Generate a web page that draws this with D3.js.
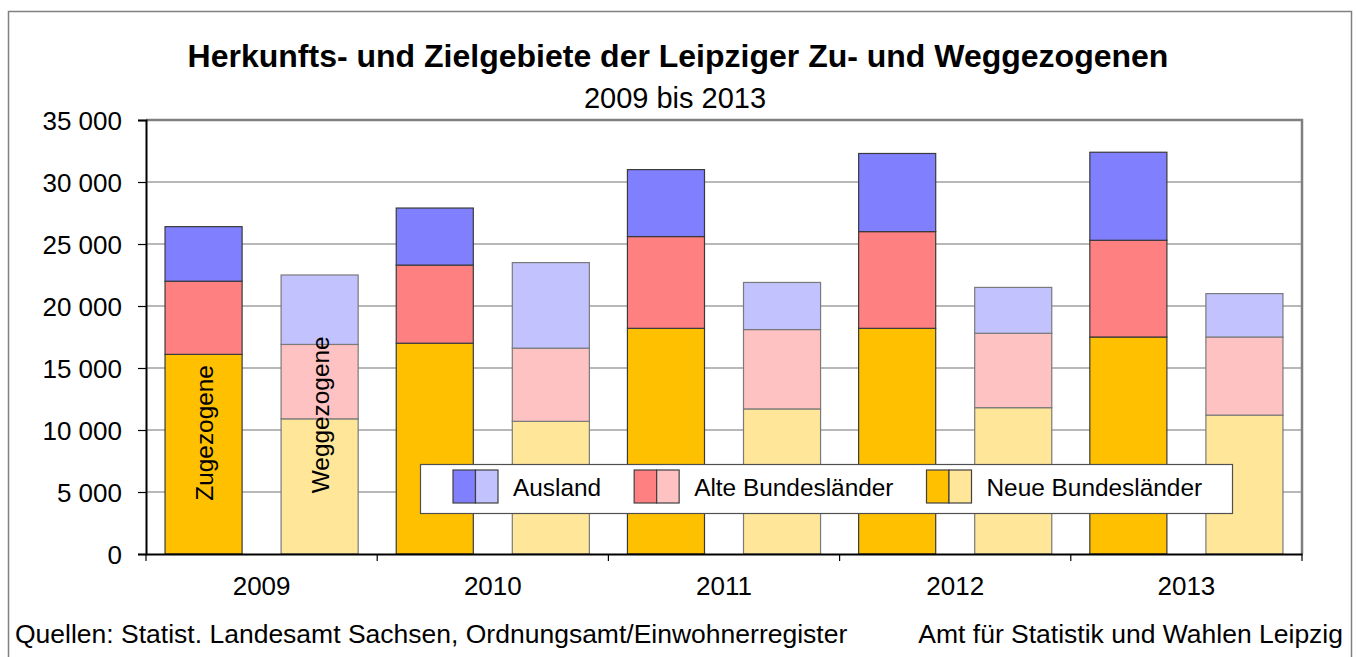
<!DOCTYPE html>
<html>
<head>
<meta charset="utf-8">
<script src="https://cdn.jsdelivr.net/npm/d3@7"></script>
<style>
    body { margin: 0; background: #fff; }
    svg text { font-family: "Liberation Sans", Arial, sans-serif; fill: #000; }
</style>
</head>
<body>
<svg class="chart" width="1356" height="657"></svg>
<script>
var years = ["2009", "2010", "2011", "2012", "2013"];
var flows = ["Zu", "Weg"];

// Zugezogene (arrivals), stacked bottom to top
var zuNeue = [16100, 17000, 18200, 18200, 17500];
var zuAlte = [5900, 6300, 7400, 7800, 7800];
var zuAusland = [4400, 4600, 5400, 6300, 7100];

// Weggezogene (departures)
var wegNeue = [10900, 10700, 11700, 11800, 11200];
var wegAlte = [6000, 5900, 6400, 6000, 6300];
var wegAusland = [5600, 6900, 3800, 3700, 3500];

var regions = ["Neue Bundesländer", "Alte Bundesländer", "Ausland"];
var yTicks = [0, 5000, 10000, 15000, 20000, 25000, 30000, 35000];
var legendOrder = ["Ausland", "Alte Bundesländer", "Neue Bundesländer"];

var colors = {
    "Zu": { "Neue Bundesländer": "#ffc000", "Alte Bundesländer": "#ff8080", "Ausland": "#8080ff" },
    "Weg": { "Neue Bundesländer": "#ffe699", "Alte Bundesländer": "#ffc2c2", "Ausland": "#c2c2ff" }
};

var svg = d3.select("svg.chart");
var plotL = 146, plotR = 1302, plotT = 120, plotB = 554;

var de = d3.formatLocale({ decimal: ",", thousands: " ", grouping: [3], currency: ["", " €"] });
var fmt = de.format(",d");

var x0 = d3.scaleBand().domain(years).range([plotL, plotR]);
var x1 = d3.scaleBand().domain(flows).range([0, x0.bandwidth()])
    .paddingInner(0.336).paddingOuter(0.164);
var y = d3.scaleLinear().domain([0, 35000]).range([plotB, plotT]);

// build stacked rows
var rows = [];
years.forEach(function (year, i) {
    rows.push({ year: year, flow: "Zu", "Neue Bundesländer": zuNeue[i], "Alte Bundesländer": zuAlte[i], "Ausland": zuAusland[i] });
    rows.push({ year: year, flow: "Weg", "Neue Bundesländer": wegNeue[i], "Alte Bundesländer": wegAlte[i], "Ausland": wegAusland[i] });
});
var series = d3.stack().keys(regions)(rows);

// outer frame
svg.append("rect")
    .attr("x", 8.5).attr("y", 11.5)
    .attr("width", 1343).attr("height", 660)
    .attr("fill", "none")
    .attr("stroke", "#808080")
    .attr("stroke-width", 1.5);

// title
svg.append("text")
    .attr("x", 678).attr("y", 67)
    .attr("text-anchor", "middle")
    .style("font-size", "32px")
    .style("font-weight", "bold")
    .text("Herkunfts- und Zielgebiete der Leipziger Zu- und Weggezogenen");
svg.append("text")
    .attr("x", 675).attr("y", 108)
    .attr("text-anchor", "middle")
    .style("font-size", "29px")
    .text("2009 bis 2013");

// grid lines
svg.append("g").selectAll("line.grid")
    .data(yTicks.slice(1))
    .enter().append("line")
    .classed("grid", true)
    .attr("x1", plotL).attr("x2", plotR)
    .attr("y1", function (d) { return y(d); })
    .attr("y2", function (d) { return y(d); })
    .attr("stroke", "#a0a0a0")
    .attr("stroke-width", 1.6);

// plot border top / right
svg.append("path")
    .attr("d", "M" + plotL + "," + plotT + "H" + plotR + "V" + plotB)
    .attr("fill", "none")
    .attr("stroke", "#808080")
    .attr("stroke-width", 2.5);

// bars
var layer = svg.append("g").selectAll("g.layer")
    .data(series)
    .enter().append("g")
    .classed("layer", true);
layer.selectAll("rect")
    .data(function (s) { return s.map(function (d) { d.key = s.key; return d; }); })
    .enter().append("rect")
    .attr("x", function (d) { return x0(d.data.year) + x1(d.data.flow); })
    .attr("y", function (d) { return y(d[1]); })
    .attr("width", x1.bandwidth())
    .attr("height", function (d) { return y(d[0]) - y(d[1]); })
    .attr("fill", function (d) { return colors[d.data.flow][d.key]; })
    .attr("stroke", function (d) { return d.data.flow === "Zu" ? "#3a3a3a" : "#7a7a7a"; })
    .attr("stroke-width", 1.2);

// rotated labels in first pair of bars
var firstYear = years[0];
[["Zu", "Zugezogene", 4300], ["Weg", "Weggezogene", 4900]].forEach(function (lab) {
    var cx = x0(firstYear) + x1(lab[0]) + x1.bandwidth() / 2 + 9;
    svg.append("text")
        .attr("transform", "translate(" + cx + "," + y(lab[2]) + ") rotate(-90)")
        .style("font-size", "24.4px")
        .text(lab[1]);
});

// axes
var yAxis = d3.axisLeft(y).tickValues(yTicks).tickFormat(fmt).tickSize(8).tickPadding(16);
var gy = svg.append("g").attr("transform", "translate(" + plotL + ",0)").call(yAxis);
gy.select(".domain").attr("stroke", "#000").attr("stroke-width", 2);
gy.selectAll(".tick line").attr("stroke", "#000").attr("stroke-width", 1.2);
gy.selectAll(".tick text")
    .attr("fill", "#000")
    .style("font-size", "26px")
    .attr("dy", "0.35em")
    .style("font-family", "'Liberation Sans', Arial, sans-serif");

var xAxis = d3.axisBottom(x0).tickSize(0).tickPadding(23);
var gx = svg.append("g").attr("transform", "translate(0," + plotB + ")").call(xAxis);
gx.select(".domain").attr("stroke", "#000").attr("stroke-width", 2);
gx.selectAll(".tick text")
    .attr("fill", "#000")
    .style("font-size", "26px")
    .style("font-family", "'Liberation Sans', Arial, sans-serif");

// category separator ticks
var bounds = years.map(function (d) { return x0(d); }).concat([plotR]);
gx.selectAll("line.sep")
    .data(bounds)
    .enter().append("line")
    .classed("sep", true)
    .attr("x1", function (d) { return d; }).attr("x2", function (d) { return d; })
    .attr("y1", 0).attr("y2", 7)
    .attr("stroke", "#000")
    .attr("stroke-width", 1.2);

// legend
var legend = svg.append("g").attr("transform", "translate(420,464)");
legend.append("rect")
    .attr("x", 0.5).attr("y", 0.5)
    .attr("width", 812).attr("height", 49)
    .attr("fill", "#fff")
    .attr("stroke", "#505050")
    .attr("stroke-width", 1.2);

var lx = 33;
legendOrder.forEach(function (key) {
    var item = legend.append("g").attr("transform", "translate(" + lx + ",6)");
    flows.forEach(function (flow, i) {
        item.append("rect")
            .attr("x", i * 22.5).attr("y", 0)
            .attr("width", 22.5).attr("height", 33)
            .attr("fill", colors[flow][key])
            .attr("stroke", "#404040")
            .attr("stroke-width", 1.2);
    });
    var t = item.append("text")
        .attr("x", 60).attr("y", 26)
        .style("font-size", "24.4px")
        .text(key);
    lx += 60 + t.node().getComputedTextLength() + 33;
});

// footer
svg.append("text")
    .attr("x", 15).attr("y", 643)
    .style("font-size", "26.5px")
    .text("Quellen: Statist. Landesamt Sachsen, Ordnungsamt/Einwohnerregister");
svg.append("text")
    .attr("x", 1343).attr("y", 643)
    .attr("text-anchor", "end")
    .style("font-size", "26.5px")
    .text("Amt für Statistik und Wahlen Leipzig");
</script>
</body>
</html>
